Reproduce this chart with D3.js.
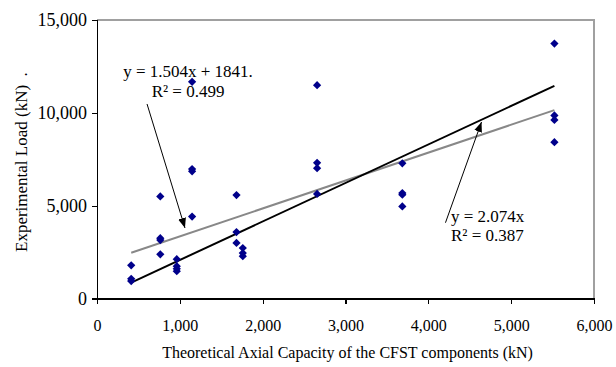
<!DOCTYPE html>
<html>
<head>
<meta charset="utf-8">
<script src="https://cdn.jsdelivr.net/npm/d3@7"></script>
<style>
  body { margin: 0; background: #fff; }
  text { font-family: "Liberation Serif", "Times New Roman", serif; fill: #000; }
  .axis path, .axis line { stroke: #000; stroke-width: 1.3; shape-rendering: crispEdges; }
  .x-axis text { font-size: 16px; }
  .y-axis text { font-size: 18px; }
  .frame { stroke: #a0a0a0; stroke-width: 1.3; fill: none; shape-rendering: crispEdges; }
</style>
</head>
<body>
<script>
// Data // ----------------------------------------------------------------------
// theoretical axial capacity (kN) of each specimen group
var capacity = [413, 413, 413,
                764, 764, 764, 764,
                963, 963, 963, 963,
                1148, 1148, 1148, 1148,
                1684, 1684, 1684,
                1760, 1760, 1760,
                2657, 2657, 2657, 2657,
                3686, 3686, 3686, 3686,
                5522, 5522, 5522, 5522];
// experimental load (kN)
var experimental = [1790, 1060, 940,
                    5500, 3250, 3150, 2380,
                    2120, 1740, 1600, 1470,
                    11670, 6970, 6850, 4410,
                    5570, 3580, 2990,
                    2720, 2450, 2280,
                    11490, 7310, 7020, 5630,
                    7280, 5680, 5590, 4960,
                    13730, 9860, 9620, 8420];

var xTicks = [0, 1000, 2000, 3000, 4000, 5000, 6000];
var yTicks = [0, 5000, 10000, 15000];

// trendlines: slope / intercept as printed on the chart
var blackFit = {slope: 2.074, intercept: 0};
var grayFit  = {slope: 1.504, intercept: 1841};

// equation labels
var grayLabel  = ["y = 1.504x + 1841.", "R\u00b2 = 0.499"];
var blackLabel = ["y = 2.074x", "R\u00b2 = 0.387"];

// set the dimensions and margins of the graph
var margin = {top: 20, right: 22, bottom: 68.5, left: 97},
    width = 616 - margin.left - margin.right,
    height = 367 - margin.top - margin.bottom;

// set ranges
var x = d3.scaleLinear().domain([0, 6000]).range([0, width]),
    y = d3.scaleLinear().domain([0, 15000]).range([height, 0]);

var svg = d3.select("body")
            .append("svg")
            .attr("width", width + margin.left + margin.right)
            .attr("height", height + margin.top + margin.bottom);

// arrow head
svg.append("defs").append("marker")
   .attr("id", "head")
   .attr("viewBox", "0 0 10 10")
   .attr("refX", 10).attr("refY", 5)
   .attr("markerWidth", 10).attr("markerHeight", 10)
   .attr("markerUnits", "userSpaceOnUse")
   .attr("orient", "auto")
   .append("path")
   .attr("d", "M0,1 L10,5 L0,9 z")
   .attr("fill", "#000");

var g = svg.append("g")
           .attr("transform", "translate(" + margin.left + "," + margin.top + ")");

// grey frame on top and right
g.append("path")
 .attr("class", "frame")
 .attr("d", "M0,0 H" + width + " V" + height);

// Add the x-axis
g.append("g")
 .attr("class", "axis x-axis")
 .attr("transform", "translate(0," + height + ")")
 .call(d3.axisBottom(x)
         .tickValues(xTicks)
         .tickFormat(d3.format(","))
         .tickSizeOuter(0)
         .tickSize(5)
         .tickPadding(16));

// Add the y-axis
g.append("g")
 .attr("class", "axis y-axis")
 .call(d3.axisLeft(y)
         .tickValues(yTicks)
         .tickFormat(d3.format(","))
         .tickSizeOuter(0)
         .tickSize(5)
         .tickPadding(5));

// trendlines over the range of the data
var xExt = d3.extent(capacity);
function fitLine(fit) {
    return d3.line()
             .x(function(d) { return x(d); })
             .y(function(d) { return y(fit.slope * d + fit.intercept); })(xExt);
}

g.append("path")
 .attr("d", fitLine(grayFit))
 .attr("stroke", "#888888")
 .attr("stroke-width", 2)
 .attr("fill", "none");

g.append("path")
 .attr("d", fitLine(blackFit))
 .attr("stroke", "#000")
 .attr("stroke-width", 2)
 .attr("fill", "none");

// data points (navy diamonds)
var diamond = d3.symbol().type(d3.symbolSquare).size(34);
g.selectAll(".pt")
 .data(d3.range(capacity.length))
 .enter().append("path")
 .attr("class", "pt")
 .attr("d", diamond)
 .attr("transform", function(i) {
     return "translate(" + x(capacity[i]) + "," + y(experimental[i]) + ") rotate(45)";
 })
 .attr("fill", "#00008b");

// equation labels with arrows (positions in data units)
function label(lines, at, anchor) {
    var t = g.append("text")
             .attr("text-anchor", anchor)
             .style("font-size", "17px");
    lines.forEach(function(s, i) {
        t.append("tspan")
         .attr("x", x(at[0]))
         .attr("y", y(at[1]) + i * 19.4)
         .text(s);
    });
}
function arrow(from, to) {
    g.append("line")
     .attr("x1", x(from[0])).attr("y1", y(from[1]))
     .attr("x2", x(to[0])).attr("y2", y(to[1]))
     .attr("stroke", "#000")
     .attr("stroke-width", 1)
     .attr("marker-end", "url(#head)");
}

label(grayLabel, [1099, 11914], "middle");
arrow([604, 10476], [1062, 3797]);

label(blackLabel, [4274, 4136], "start");
arrow([4207, 4082], [4642, 9506]);

// axis titles
svg.append("text")
   .attr("x", 347.5)
   .attr("y", 358)
   .attr("text-anchor", "middle")
   .style("font-size", "16px")
   .text("Theoretical Axial Capacity of the CFST components (kN)");

svg.append("text")
   .attr("transform", "translate(27,252) rotate(-90)")
   .attr("text-anchor", "start")
   .style("font-size", "17px")
   .text("Experimental Load (kN)\u00a0\u00a0.");
</script>
</body>
</html>
